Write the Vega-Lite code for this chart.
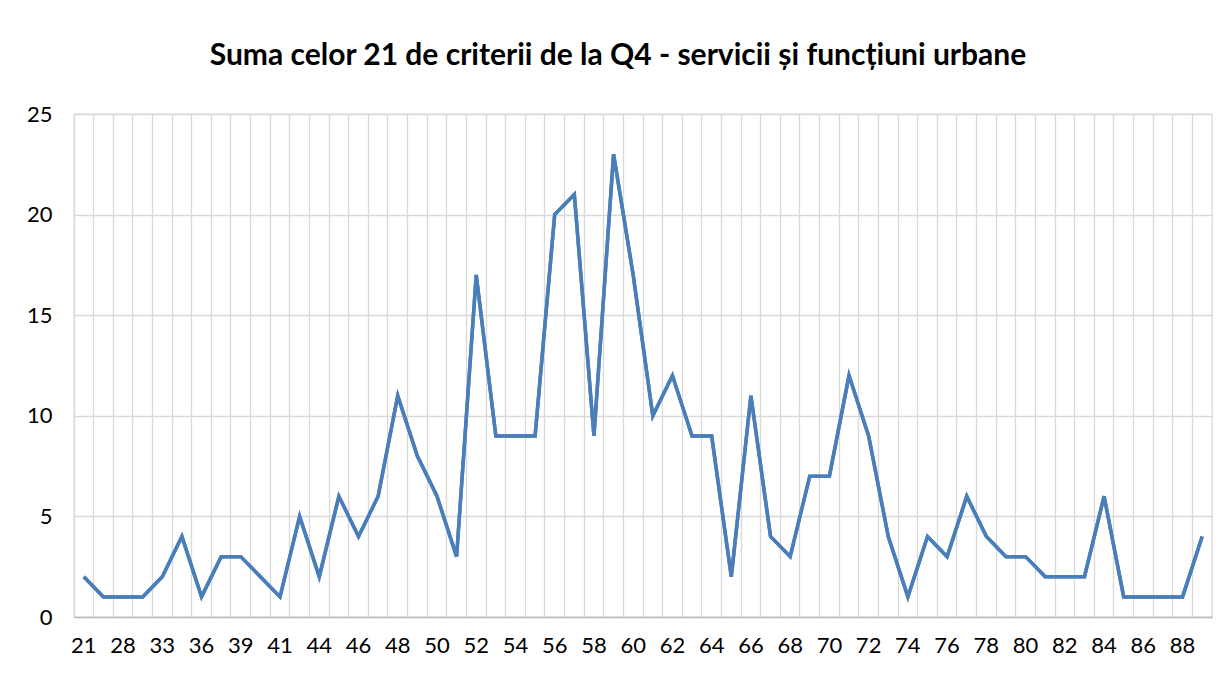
{
  "$schema": "https://vega.github.io/schema/vega-lite/v6.json",
  "width": 1138,
  "height": 503,
  "autosize": {"type": "none"},
  "padding": {"left": 74, "top": 114, "right": 6, "bottom": 58},
  "background": "white",
  "config": {"view": {"stroke": "#D9D9D9", "strokeWidth": 1.3}},
  "title": {
    "text": "Suma celor 21 de criterii de la Q4 - servicii și funcțiuni urbane",
    "font": "Lato",
    "fontSize": 30,
    "fontWeight": "bold",
    "color": "#000000",
    "anchor": "middle",
    "dx": -25,
    "offset": 32
  },
  "data": {
    "values": [
      {"cat": "21", "suma": 2}, {"cat": "25", "suma": 1}, {"cat": "28", "suma": 1}, {"cat": "30", "suma": 1},
      {"cat": "33", "suma": 2}, {"cat": "35", "suma": 4}, {"cat": "36", "suma": 1}, {"cat": "37", "suma": 3},
      {"cat": "39", "suma": 3}, {"cat": "40", "suma": 2}, {"cat": "41", "suma": 1}, {"cat": "43", "suma": 5},
      {"cat": "44", "suma": 2}, {"cat": "45", "suma": 6}, {"cat": "46", "suma": 4}, {"cat": "47", "suma": 6},
      {"cat": "48", "suma": 11}, {"cat": "49", "suma": 8}, {"cat": "50", "suma": 6}, {"cat": "51", "suma": 3},
      {"cat": "52", "suma": 17}, {"cat": "53", "suma": 9}, {"cat": "54", "suma": 9}, {"cat": "55", "suma": 9},
      {"cat": "56", "suma": 20}, {"cat": "57", "suma": 21}, {"cat": "58", "suma": 9}, {"cat": "59", "suma": 23},
      {"cat": "60", "suma": 17}, {"cat": "61", "suma": 10}, {"cat": "62", "suma": 12}, {"cat": "63", "suma": 9},
      {"cat": "64", "suma": 9}, {"cat": "65", "suma": 2}, {"cat": "66", "suma": 11}, {"cat": "67", "suma": 4},
      {"cat": "68", "suma": 3}, {"cat": "69", "suma": 7}, {"cat": "70", "suma": 7}, {"cat": "71", "suma": 12},
      {"cat": "72", "suma": 9}, {"cat": "73", "suma": 4}, {"cat": "74", "suma": 1}, {"cat": "75", "suma": 4},
      {"cat": "76", "suma": 3}, {"cat": "77", "suma": 6}, {"cat": "78", "suma": 4}, {"cat": "79", "suma": 3},
      {"cat": "80", "suma": 3}, {"cat": "81", "suma": 2}, {"cat": "82", "suma": 2}, {"cat": "83", "suma": 2},
      {"cat": "84", "suma": 6}, {"cat": "85", "suma": 1}, {"cat": "86", "suma": 1}, {"cat": "87", "suma": 1},
      {"cat": "88", "suma": 1}, {"cat": "89", "suma": 4}
    ]
  },
  "encoding": {
    "y": {
      "field": "suma",
      "type": "quantitative",
      "scale": {"domain": [0, 25], "nice": false},
      "axis": {
        "title": null,
        "values": [0, 5, 10, 15, 20, 25],
        "grid": true,
        "gridColor": "#D9D9D9",
        "gridWidth": 1.3,
        "domain": false,
        "ticks": false,
        "tickSize": 0,
        "labelFont": "Lato",
        "labelFontSize": 22,
        "labelColor": "#000000",
        "labelPadding": 22
      }
    }
  },
  "layer": [
    {
      "mark": {"type": "line", "color": "#4A7EBB", "strokeWidth": 3.5},
      "encoding": {
        "x": {
          "field": "cat",
          "type": "ordinal",
          "sort": null,
          "scale": {"type": "band", "paddingInner": 0, "paddingOuter": 0},
          "axis": {
            "title": null,
            "orient": "bottom",
            "grid": true,
            "gridColor": "#D9D9D9",
            "gridWidth": 1.3,
            "bandPosition": 0,
            "labels": false,
            "ticks": false,
            "domain": false
          }
        }
      }
    },
    {
      "mark": {"type": "line", "color": "#4A7EBB", "strokeWidth": 3.5},
      "encoding": {
        "x": {
          "field": "cat",
          "type": "ordinal",
          "sort": null,
          "scale": {"type": "band", "paddingInner": 0, "paddingOuter": 0},
          "axis": {
            "title": null,
            "orient": "bottom",
            "grid": false,
            "values": ["21", "28", "33", "36", "39", "41", "44", "46", "48", "50", "52", "54", "56", "58", "60", "62", "64", "66", "68", "70", "72", "74", "76", "78", "80", "82", "84", "86", "88"],
            "labelAngle": 0,
            "labelFont": "Lato",
            "labelFontSize": 22,
            "labelColor": "#000000",
            "labelPadding": 18,
            "ticks": false,
            "tickSize": 0,
            "domain": true,
            "domainColor": "#BFBFBF",
            "domainWidth": 1.5
          }
        }
      }
    }
  ],
  "resolve": {"axis": {"x": "independent"}}
}
